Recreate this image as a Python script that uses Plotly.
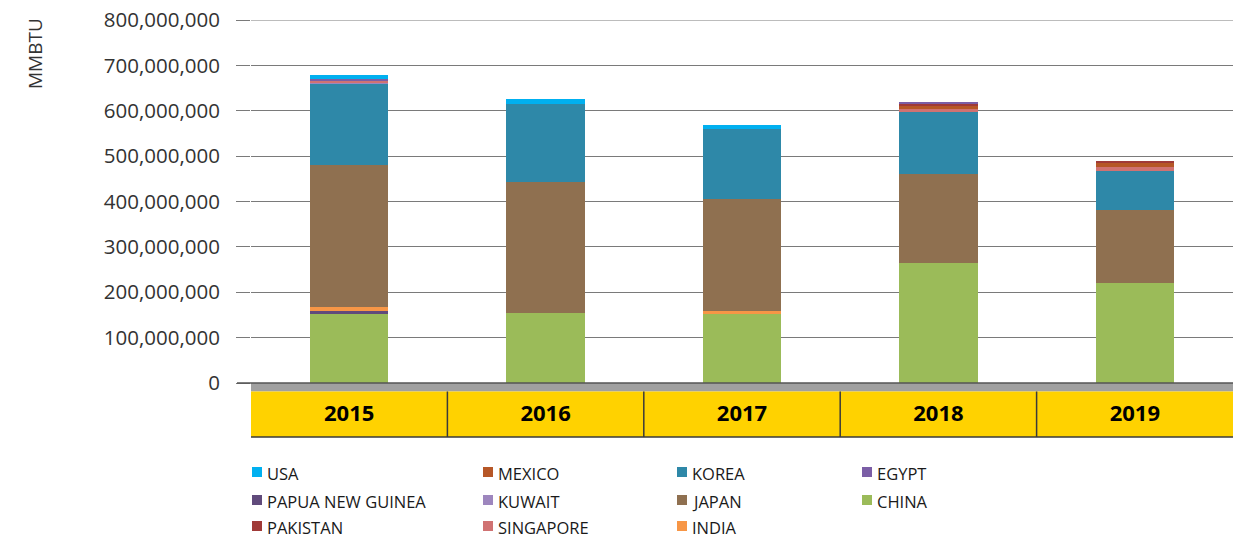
import plotly.graph_objects as go

years = ["2015", "2016", "2017", "2018", "2019"]

# values in millions of MMBTU, stack order bottom -> top
china = [152, 154, 151, 265, 221]
papua_new_guinea = [6, 0, 0, 0, 0]
india = [9, 0, 7, 0, 0]
japan = [314, 289, 247, 195, 161]
korea = [178, 172, 154, 138, 86]
kuwait = [2, 0, 0, 0, 0]
singapore = [5, 0, 0, 6, 7]
mexico = [0, 0, 0, 8, 10]
pakistan = [0, 0, 0, 4, 3]
egypt = [4, 0, 0, 2, 0]
usa = [9, 10, 10, 0, 0]

series = [
    ("CHINA", china, "#9bbb59"),
    ("PAPUA NEW GUINEA", papua_new_guinea, "#604a7b"),
    ("INDIA", india, "#f79646"),
    ("JAPAN", japan, "#8f7050"),
    ("KOREA", korea, "#2e88a8"),
    ("KUWAIT", kuwait, "#9d86be"),
    ("SINGAPORE", singapore, "#d07272"),
    ("MEXICO", mexico, "#b65727"),
    ("PAKISTAN", pakistan, "#a03a38"),
    ("EGYPT", egypt, "#7b5ea6"),
    ("USA", usa, "#00b0f0"),
]
colors = {n: c for n, _, c in series}

legend_order = ["USA", "MEXICO", "KOREA", "EGYPT",
                "PAPUA NEW GUINEA", "KUWAIT", "JAPAN", "CHINA",
                "PAKISTAN", "SINGAPORE", "INDIA"]

# page has an 8px body margin, so the figure is drawn 8px smaller / offset
OFF = 8
W, H = 1247 - OFF, 538 - OFF
L, R, T = 251 - OFF, 14, 20 - OFF
B = H - (383 - OFF)
PW = W - L - R
PH = H - T - B

Y_MAX = 800e6


def px(x):
    return (x - OFF - L) / PW


def py(y):
    return (H - B - (y - OFF)) / PH


fig = go.Figure()
for name, vals, col in series:
    fig.add_trace(go.Bar(
        x=years, y=[v * 1e6 for v in vals], name=name,
        marker=dict(color=col, line=dict(width=0)),
        width=0.4, showlegend=False,
    ))

shapes = []
shapes.append(dict(type="rect", xref="paper", yref="paper", x0=0, x1=1,
                   y0=py(391.5), y1=py(383), fillcolor="#a0a0a0", line=dict(width=0), layer="below"))
shapes.append(dict(type="rect", xref="paper", yref="paper", x0=0, x1=1,
                   y0=py(437), y1=py(391.5), fillcolor="#ffd200", line=dict(width=0), layer="below"))
shapes.append(dict(type="line", xref="paper", yref="paper", x0=0, x1=1,
                   y0=py(437), y1=py(437), line=dict(color="#3a3a3a", width=1.5)))
for i in range(1, len(years)):
    xx = i / len(years)
    shapes.append(dict(type="line", xref="paper", yref="paper", x0=xx, x1=xx,
                       y0=py(437), y1=py(391.5), line=dict(color="#3a3a3a", width=1.5)))
# top gridline (plotly omits the grid line at the range edge)
shapes.append(dict(type="line", xref="paper", yref="y", x0=0, x1=1,
                   y0=Y_MAX, y1=Y_MAX, line=dict(color="#7a7a7a", width=1), layer="below"))

annotations = []
col_x = [252, 483, 677, 862]
row_y = [472, 500, 526]
for k, name in enumerate(legend_order):
    r, c = divmod(k, 4)
    x0 = col_x[c]
    y0 = row_y[r]
    shapes.append(dict(type="rect", xref="paper", yref="paper",
                       x0=px(x0), x1=px(x0 + 10), y0=py(y0 + 5), y1=py(y0 - 5),
                       fillcolor=colors[name], line=dict(width=0)))
    annotations.append(dict(text=name, xref="paper", yref="paper",
                            x=px(x0 + 13), y=py(y0 + 1), xanchor="left", yanchor="middle",
                            showarrow=False, font=dict(family="Open Sans", size=16.5, color="#1a1a1a")))

annotations.append(dict(text="MMBTU", xref="paper", yref="paper", x=px(35), y=py(54),
                        textangle=-90, showarrow=False, xanchor="center", yanchor="middle",
                        font=dict(family="Open Sans", size=19, color="#333333")))

fig.update_layout(
    width=W, height=H,
    margin=dict(l=L, r=R, t=T, b=B, autoexpand=False),
    barmode="stack",
    plot_bgcolor="white", paper_bgcolor="white",
    shapes=shapes, annotations=annotations,
    showlegend=False,
    xaxis=dict(
        range=[-0.5, 4.5], showgrid=False, zeroline=False, showline=False,
        automargin=False,
        ticks="", tickfont=dict(family="Open Sans", size=22, color="black", weight="bold"),
        ticklabelstandoff=15,
    ),
    yaxis=dict(
        range=[0, Y_MAX], dtick=100e6, tickformat=",.0f",
        automargin=False, ticklabeloverflow="allow",
        showgrid=True, gridcolor="#7a7a7a", gridwidth=1,
        zeroline=False, showline=False,
        ticks="outside", ticklen=14, tickcolor="#7a7a7a", tickwidth=1,
        ticklabelstandoff=12,
        tickfont=dict(family="Open Sans", size=20.5, color="#333333"),
    ),
)
fig.add_shape(type="line", xref="paper", yref="paper", x0=px(237), x1=1, y0=0, y1=0,
              line=dict(color="#555555", width=1.5))

fig.write_html("out.html")
